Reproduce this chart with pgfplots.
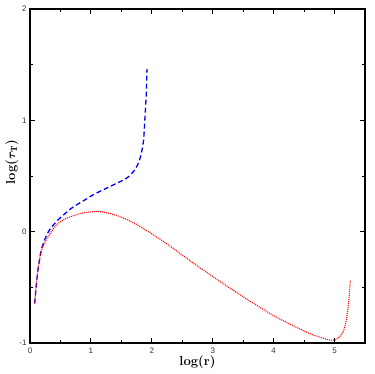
\documentclass[border=0pt]{standalone}
\usepackage{amsmath}
\usepackage{fontspec}
\newfontfamily\ticksf{Liberation Sans}
\usepackage{pgfplots}
\pgfplotsset{compat=1.18}
\begin{document}
\begin{tikzpicture}
\begin{axis}[
  name=ax,
  scale only axis,
  width=335pt, height=334pt,
  xmin=0, xmax=5.5, ymin=-1, ymax=2,
  xtick={0,1,2,3,4,5}, ytick={-1,0,1,2},
  minor x tick num=1, minor y tick num=1,
  tick align=inside,
  major tick length=5pt, minor tick length=3pt,
  axis line style={line width=1.1pt},
  every tick/.style={black, line width=0.9pt},
  /pgf/number format/assume math mode=true,
  ticklabel style={font=\ticksf\fontsize{8}{9}\selectfont, text=black!80},
  xticklabel style={yshift=-1pt},
  xlabel={\fontsize{13}{15}\selectfont\bfseries log(r)},
  ylabel={\fontsize{13}{15}\selectfont\bfseries log($\boldsymbol{\tau}_{\mathbf{T}}$)},
  xlabel style={yshift=4pt},
  ylabel style={yshift=-6pt, xshift=14pt},
]
\addplot[blue, line width=1.3pt, dash pattern=on 5pt off 3pt, smooth] coordinates {
(0.077,-0.645)(0.10,-0.50)(0.13,-0.345)(0.16,-0.24)(0.185,-0.165)(0.24,-0.075)(0.32,0.015)(0.46,0.105)(0.68,0.21)(0.90,0.285)(1.05,0.335)(1.31,0.405)(1.585,0.48)(1.72,0.556)(1.80,0.646)(1.86,0.80)(1.885,1.0)(1.91,1.25)(1.92,1.463)
};
\addplot[red, line width=1.1pt, dash pattern=on 1pt off 1pt, smooth] coordinates {
(0.077,-0.645)(0.10,-0.50)(0.13,-0.345)(0.16,-0.24)(0.20,-0.15)(0.25,-0.09)(0.30,-0.045)(0.40,0.04)(0.50,0.09)(0.62,0.125)(0.84,0.165)(1.0,0.178)(1.15,0.18)(1.3,0.165)(1.5,0.13)(1.7,0.08)(1.9,0.015)(2.1,-0.055)(2.3,-0.13)(2.5,-0.21)(2.7,-0.29)(2.9,-0.365)(3.1,-0.44)(3.5,-0.585)(4.04,-0.766)(4.59,-0.915)(4.75,-0.945)(4.89,-0.97)(4.97,-0.975)(5.05,-0.96)(5.14,-0.90)(5.19,-0.80)(5.23,-0.645)(5.26,-0.435)
};
\end{axis}
\pgfresetboundingbox
\path ([xshift=-30pt,yshift=-31pt]ax.south west) rectangle ([xshift=9pt,yshift=9pt]ax.north east);
\end{tikzpicture}
\end{document}
